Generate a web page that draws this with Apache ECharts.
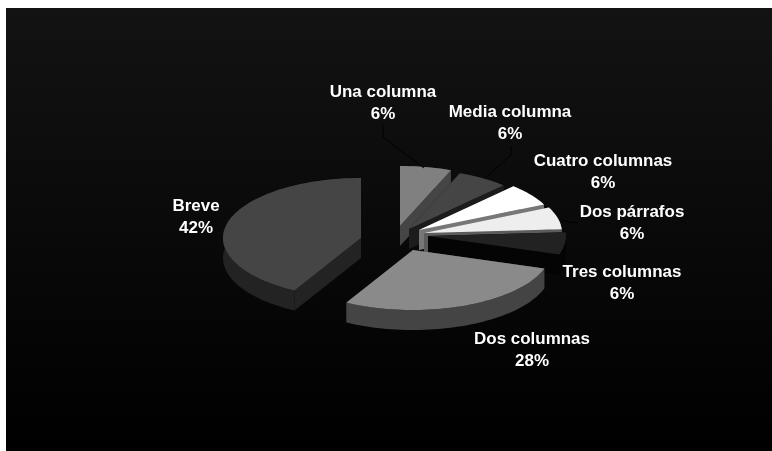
<!DOCTYPE html>
<html>
<head>
<meta charset="utf-8">
<style>html,body{margin:0;padding:0;background:#fff}#chart{width:772px;height:451px}</style>
<script src="https://cdn.jsdelivr.net/npm/echarts@6/dist/echarts.min.js"></script>
</head>
<body>
<div id="chart"></div>
<script>
// Tipos de nota, en sentido horario desde las 12
const categories = ['Una columna', 'Media columna', 'Cuatro columnas', 'Dos párrafos', 'Tres columnas', 'Dos columnas', 'Breve'];
const shares = [6, 6, 6, 6, 6, 28, 42];

// Aspecto de cada porción
const topColors = ['#808080', '#454545', '#ffffff', '#eeeeee', '#222222', '#8a8a8a', '#454545'];
const sideColors = ['#454545', '#1c1c1c', '#777777', '#5c5c5c', '#040404', '#444444', '#232323'];
const sliceCenters = [[400, 226], [409, 229], [419, 230], [424, 233], [428, 236], [413, 250], [361, 238]];
const labelCenters = [[383, 91], [510, 111], [603, 160], [632, 211], [622, 271], [532, 338], [196, 205]];
const leaders = [
  [[383, 125], [383, 137], [424, 168]],
  [[511, 146], [511, 155], [485, 178]],
  null,
  [[562, 220], [568, 222], [578, 223]],
  null, null, null
];

const RX = 138, RY = 60, DEPTH = 20, LINE_GAP = 22, TEXT_STRETCH = 1.06, TEXT_NUDGE = 1.5;
const total = shares.reduce((a, b) => a + b, 0);
const toAngle = v => echarts.number.linearMap(v, [0, total], [0, Math.PI * 2], true);
const drop = p => [p[0], p[1] + DEPTH];

function renderSlice(params, api) {
  const i = params.dataIndex;
  const value = api.value(0);
  const before = shares.slice(0, i).reduce((a, b) => a + b, 0);
  const a0 = toAngle(before), a1 = toAngle(before + value);
  const [cx, cy] = sliceCenters[i];
  const apex = [cx, cy];

  // Arco elíptico de la cara superior
  const arc = [];
  const steps = Math.max(4, Math.ceil((a1 - a0) / 0.035));
  for (let s = 0; s <= steps; s++) {
    const a = a0 + (a1 - a0) * s / steps;
    arc.push([cx + RX * Math.sin(a), cy - RY * Math.cos(a)]);
  }
  const first = arc[0], last = arc[arc.length - 1];
  const sideStyle = { fill: sideColors[i] };

  const children = [
    // Paredes: los dos cortes y el borde curvo extruidos hacia abajo
    { type: 'polygon', shape: { points: [apex, first, drop(first), drop(apex)] }, style: sideStyle },
    { type: 'polygon', shape: { points: [apex, last, drop(last), drop(apex)] }, style: sideStyle },
    { type: 'polygon', shape: { points: arc.concat(arc.map(drop).reverse()) }, style: sideStyle },
    { type: 'polygon', shape: { points: [apex].concat(arc) }, style: { fill: topColors[i] } }
  ];

  // Línea guía
  if (leaders[i]) {
    children.push({
      type: 'polyline',
      shape: { points: leaders[i] },
      style: { fill: 'none', stroke: '#000000', lineWidth: 1 }
    });
  }

  // Etiqueta de dos líneas
  const [lx, ly] = labelCenters[i];
  const lines = [categories[i], Math.round(value / total * 100) + '%'];
  lines.forEach((text, n) => {
    children.push({
      type: 'text',
      x: lx, y: ly + TEXT_NUDGE + n * LINE_GAP,
      scaleX: TEXT_STRETCH,
      style: {
        text, x: 0, y: 0, fill: '#ffffff',
        font: 'bold 16px "Liberation Sans", Arial, sans-serif',
        align: 'center', verticalAlign: 'middle'
      }
    });
  });
  return { type: 'group', children };
}

const chart = echarts.init(document.getElementById('chart'), null, { renderer: 'canvas' });
chart.setOption({
  backgroundColor: '#ffffff',
  animation: false,
  graphic: [{
    type: 'rect', z: -1, silent: true,
    shape: { x: 6, y: 8, width: 766, height: 443 },
    style: {
      fill: new echarts.graphic.LinearGradient(0, 0, 0, 1, [
        { offset: 0, color: '#131313' },
        { offset: 1, color: '#000000' }
      ])
    }
  }],
  series: [{
    type: 'custom',
    coordinateSystem: 'none',
    renderItem: renderSlice,
    data: shares.map(v => [v])
  }]
});
</script>
</body>
</html>
